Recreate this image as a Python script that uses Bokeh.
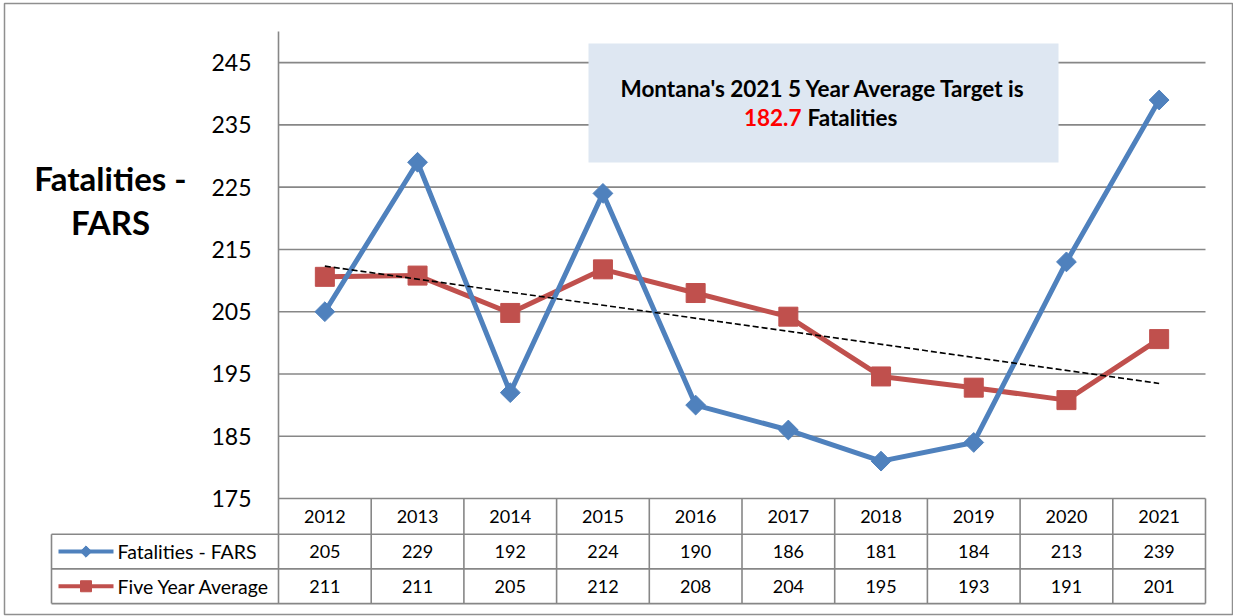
import numpy as np
from bokeh.plotting import figure
from bokeh.models import Range1d, Label, BoxAnnotation
from bokeh.embed import file_html
from bokeh.resources import INLINE
from bokeh.core.properties import value

# ---------------- data ----------------
years = ["2012", "2013", "2014", "2015", "2016", "2017", "2018", "2019", "2020", "2021"]
fatalities = [205, 229, 192, 224, 190, 186, 181, 184, 213, 239]
five_year_avg = [210.6, 210.8, 204.8, 211.8, 208.0, 204.2, 194.6, 192.8, 190.8, 200.6]
y_ticks = [175, 185, 195, 205, 215, 225, 235, 245]
y_max = 250
series_names = ["Fatalities - FARS", "Five Year Average"]
y_title = ["Fatalities -", "FARS"]
target_text = "Montana's 2021 5 Year Average Target is"
target_value = "182.7"
target_unit = "Fatalities"

# ---------------- style ----------------
BLUE = "#4F81BD"
RED = "#C0504D"
GRID = "#878787"
BOX = "#DEE7F2"
FONT = "Lato"

# layout in picture pixels
W, H = 1233, 616
XL, XR, YT, YB = 278, 1205, 31, 498      # plot area
RH = 34.7                                 # table row height
ROW_TOP = 499                             # table top line
n = len(years)
Y0 = y_ticks[0]


def dx(px):
    return -0.5 + (px - XL) / (XR - XL) * n


def dy(py):
    return y_max - (py - YT) / (YB - YT) * (y_max - Y0)


def row_y(r):
    return dy(ROW_TOP + r * RH)


idx = np.arange(n)

p = figure(width=W, height=H,
           x_range=Range1d(dx(4), dx(1232)), y_range=Range1d(dy(614), dy(3)),
           x_axis_location=None, y_axis_location=None,
           toolbar_location=None, output_backend="svg",
           min_border_left=4, min_border_top=3, min_border_right=W - 1232,
           min_border_bottom=H - 614)
p.outline_line_color = "#8f8f8f"
p.outline_line_width = 1.5
p.grid.visible = False

# horizontal grid lines (value axis ticks)
p.segment(x0=[-0.5] * len(y_ticks), y0=y_ticks, x1=[n - 0.5] * len(y_ticks), y1=y_ticks,
          line_color=GRID, line_width=1.6)
# value axis line continuing as the table's first column border
p.segment(x0=[-0.5], y0=[row_y(3)], x1=[-0.5], y1=[y_max], line_color=GRID, line_width=1.6)

# tick labels
p.text(x=[dx(251)] * len(y_ticks), y=y_ticks, text=[str(v) for v in y_ticks],
       text_align="right", text_baseline="middle", text_font=value(FONT),
       text_font_size=value("23px"), text_color="black")

# target box
p.add_layout(BoxAnnotation(left=dx(588), right=dx(1058), top=dy(43), bottom=dy(162),
                           fill_color=BOX, fill_alpha=1.0, line_color=None))

# series
p.line(idx, five_year_avg, line_color=RED, line_width=5)
p.scatter(idx, five_year_avg, marker="square", size=19, fill_color=RED, line_color=RED)
p.line(idx, fatalities, line_color=BLUE, line_width=5)
p.scatter(idx, fatalities, marker="square", angle=np.pi / 4, size=14,
          fill_color=BLUE, line_color=BLUE)

# linear trend line of the five year average
k, b = np.polyfit(idx, five_year_avg, 1)
p.line([idx[0], idx[-1]], [b + k * idx[0], b + k * idx[-1]],
       line_color="black", line_width=1.6, line_dash="6 3")

# texts in box
p.add_layout(Label(x=dx(823), y=dy(88), text=target_text, text_align="center",
                   text_baseline="middle", text_font=FONT, text_font_style="bold",
                   text_font_size="22.5px", text_color="black"))
p.add_layout(Label(x=dx(801), y=dy(117), text=target_value, text_align="right",
                   text_baseline="middle", text_font=FONT, text_font_style="bold",
                   text_font_size="22.5px", text_color="#FF0000"))
p.add_layout(Label(x=dx(807), y=dy(117), text=target_unit, text_align="left",
                   text_baseline="middle", text_font=FONT, text_font_style="bold",
                   text_font_size="22.5px", text_color="black"))

# value axis title (horizontal, two lines)
for line_txt, py in zip(y_title, [177, 221]):
    p.add_layout(Label(x=dx(110), y=dy(py), text=line_txt, text_align="center",
                       text_baseline="middle", text_font=FONT, text_font_style="bold",
                       text_font_size="33px", text_color="black"))

# ---------------- data table ----------------
lbl_left = dx(51)
hx0 = [lbl_left] * 3
hx1 = [n - 0.5] * 3
hy = [row_y(1), row_y(2), row_y(3)]
p.segment(x0=hx0, y0=hy, x1=hx1, y1=hy, line_color=GRID, line_width=1.6)
vx = [i + 0.5 for i in range(n)] + [lbl_left]
vy0 = [Y0] * n + [row_y(1)]
vy1 = [row_y(3)] * (n + 1)
p.segment(x0=vx, y0=vy0, x1=vx, y1=vy1, line_color=GRID, line_width=1.6)

TS = value("18px")
p.text(x=idx, y=[row_y(0.5)] * n, text=years, text_align="center", text_baseline="middle",
       text_font=value(FONT), text_font_size=TS, text_color="black")
p.text(x=idx, y=[row_y(1.5)] * n, text=[str(v) for v in fatalities], text_align="center",
       text_baseline="middle", text_font=value(FONT), text_font_size=TS, text_color="black")
p.text(x=idx, y=[row_y(2.5)] * n, text=[str(int(round(v))) for v in five_year_avg],
       text_align="center", text_baseline="middle", text_font=value(FONT),
       text_font_size=TS, text_color="black")

# legend keys
p.line([dx(58), dx(113)], [row_y(1.5)] * 2, line_color=BLUE, line_width=4)
p.scatter([dx(85.5)], [row_y(1.5)], marker="square", angle=np.pi / 4, size=8,
          fill_color=BLUE, line_color=BLUE)
p.line([dx(58), dx(113)], [row_y(2.5)] * 2, line_color=RED, line_width=4)
p.scatter([dx(85.5)], [row_y(2.5)], marker="square", size=11, fill_color=RED, line_color=RED)
p.text(x=[dx(117)] * 2, y=[row_y(1.5), row_y(2.5)], text=series_names, text_align="left",
       text_baseline="middle", text_font=value(FONT), text_font_size=value("19.5px"),
       text_color="black")

open("out.html", "w").write(file_html(p, INLINE))
